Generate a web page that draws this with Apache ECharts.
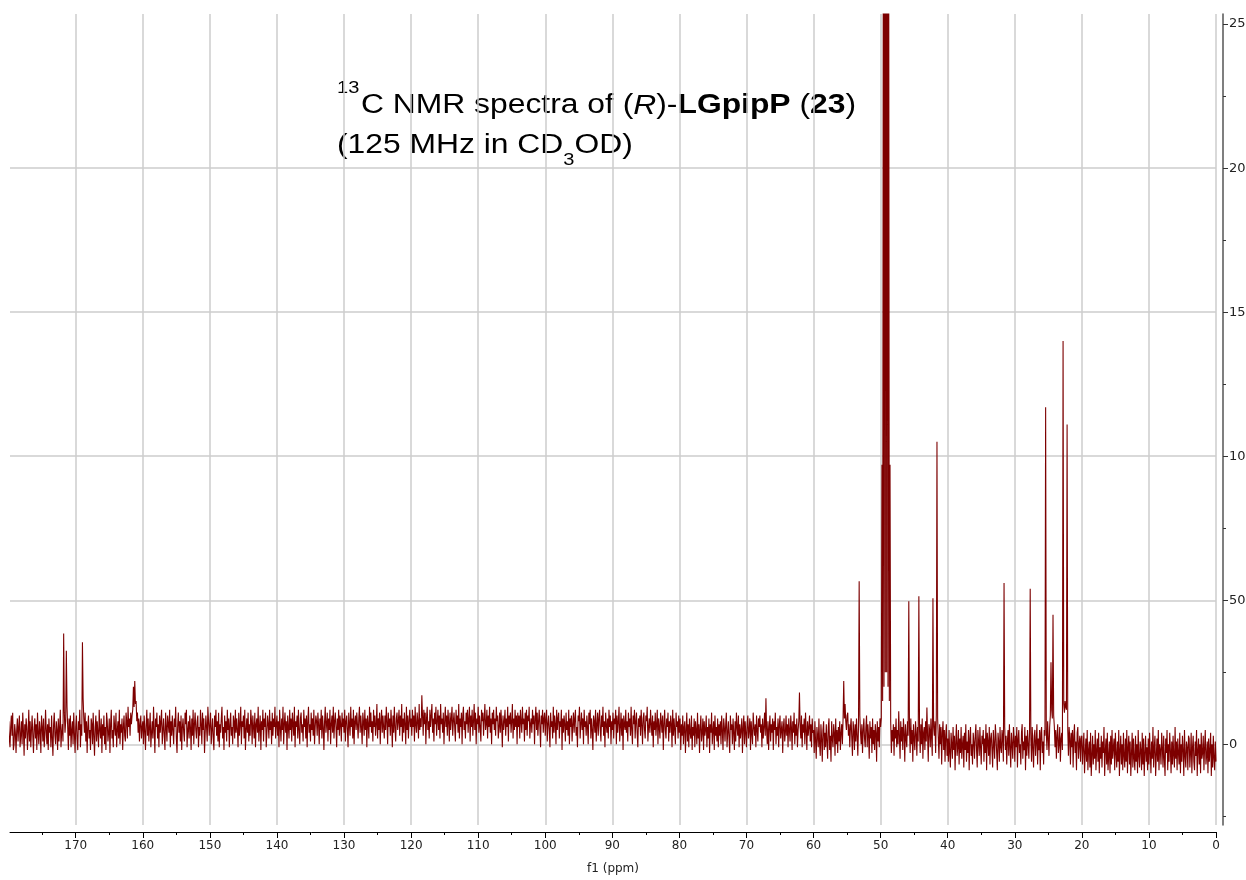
<!DOCTYPE html>
<html>
<head>
<meta charset="utf-8">
<script src="https://cdn.jsdelivr.net/npm/echarts@6/dist/echarts.min.js"></script>
<style>
html,body{margin:0;padding:0;background:#fff;}
#chart{width:1246px;height:880px;}
</style>
</head>
<body>
<div id="chart"></div>
<script>
// ---- Data ----
// chemical shift grid: first point at 180 ppm, spacing 0.1 ppm, down to 0 ppm
const ppmStart = 180;
const ppmStep = 0.1;
// intensity at each grid point (right-axis units); each row = 2 ppm, comment = ppm of first point
const intensity = [
  8, 2, -1, 6, 10, 3, 11, -2, 0, 7, 4, -3, 5, 9, 1, 6, 10, -1, 3, 8,            // 180
  0, 11, 5, -4, 7, 2, 9, 6, -2, 4, 12, 1, 8, -1, 5, 10, 3, -3, 6, 9,            // 178
  2, 7, -2, 11, 4, 0, 8, 5, -3, 10, 6, 1, 9, -1, 3, 12, 5, 0, 7, -2,            // 176
  9, 4, 6, -1, 10, 2, -4, 7, 11, 3, 0, 8, 5, -2, 9, 1, 6, 12, -1, 4,            // 174
  7, 1, 38.5, 11, 4, 8, 32.5, 13, 6, -2, 9, 3, 10, -1, 5, 8, 0, 11, 4, -3,      // 172
  6, 10, 2, -2, 8, 5, 12, -1, 7, 3, 35.4, 16, 9, 4, 11, 1, 8, -3, 6, 10,        // 170
  2, 5, -2, 9, 7, 0, 11, 3, -4, 6, 10, 1, 8, 4, -1, 12, 5, 2, 9, -3,            // 168
  7, 3, 10, 0, 6, -2, 11, 8, 1, 4, 9, -3, 7, 12, 2, 5, -1, 10, 6, 3,            // 166
  11, -1, 5, 8, 2, 12, 0, 7, 4, 9, -2, 6, 10, 3, 1, 11, 8, 2, 13, 6,            // 164
  9, 3, 11, 7, 10, 12, 20, 13, 22, 14, 15, 8, 11, 4, 9, 1, 7, 10, 2, 6,         // 162
  8, 0, 10, 5, -2, 7, 12, 3, 9, 1, 6, 11, -1, 4, 8, 2, 13, 5, -3, 9,            // 160
  6, 11, 2, 7, -1, 10, 4, 8, 12, 0, 5, 9, 3, -2, 11, 6, 1, 10, 7, 4,            // 158
  12, -1, 8, 3, 10, 5, 0, 9, 6, 13, 2, -3, 7, 11, 4, 8, 1, 10, -2, 6,           // 156
  9, 4, 1, 11, 7, 12, -1, 5, 8, 2, 10, 6, -2, 9, 3, 12, 0, 7, 11, 5,            // 154
  2, 8, 10, -1, 6, 3, 12, 7, 0, 11, 5, 9, -3, 4, 10, 6, 1, 13, 8, 3,            // 152
  7, 11, 0, 5, 9, 2, -2, 10, 6, 12, 3, 8, 1, 11, -1, 7, 4, 9, 13, 2,            // 150
  6, -2, 10, 4, 8, 1, 12, 5, 9, -1, 7, 11, 3, 6, 0, 10, 8, 2, 12, 4,            // 148
  9, 5, -1, 11, 3, 7, 13, 0, 8, 6, 10, 2, 12, -2, 5, 9, 4, 11, 1, 7,            // 146
  3, 12, 8, 0, 10, 6, 2, 11, -1, 7, 9, 4, 13, 1, 6, 10, -2, 8, 5, 12,           // 144
  1, 9, 6, 11, -1, 4, 10, 7, 2, 12, 5, 8, 0, 11, 3, 9, 6, 13, 2, 7,             // 142
  10, 3, 8, -1, 12, 6, 1, 9, 5, 13, 0, 7, 11, 4, 8, -2, 10, 6, 2, 12,           // 140
  5, 9, 1, 11, 7, 3, 13, -1, 8, 6, 10, 2, 12, 5, 0, 9, 11, 4, 7, 1,             // 138
  12, 6, 9, 2, 10, -1, 8, 13, 4, 7, 1, 11, 5, 9, 3, 12, 0, 6, 10, 8,            // 136
  3, 11, 7, 0, 9, 5, 12, 2, 10, 6, -2, 8, 13, 4, 7, 11, 1, 9, 5, 12,            // 134
  0, 7, 10, 4, 13, 2, 8, 11, 6, -1, 9, 5, 12, 3, 10, 7, 1, 11, 6, 9,            // 132
  4, 12, 1, 8, 10, 5, -1, 11, 7, 3, 13, 6, 9, 2, 12, 0, 8, 10, 5, 11,           // 130
  7, 2, 9, 13, 4, 10, 6, 0, 11, 8, 3, 12, 5, 9, -1, 10, 7, 2, 13, 6,            // 128
  11, 4, 8, 1, 12, 6, 10, 3, 7, 14, 2, 9, 5, 11, 0, 8, 12, 4, 10, 6,            // 126
  2, 10, 5, 13, 8, 0, 11, 6, 9, 3, 12, 7, -1, 10, 4, 13, 6, 1, 9, 11,           // 124
  5, 8, 12, 3, 10, 6, 14, 1, 9, 4, 11, 7, 0, 13, 5, 10, 2, 8, 12, 6,            // 122
  9, 3, 12, 6, 10, 1, 13, 7, 4, 11, 8, 2, 14, 5, 9, 6, 17, 10, 3, 12,           // 120
  7, 11, 0, 9, 13, 5, 8, 2, 12, 6, 10, 14, 4, 9, 1, 11, 7, 13, 3, 8,            // 118
  12, 5, 10, 2, 14, 7, 9, 4, 11, 0, 8, 13, 6, 10, 3, 12, 8, 1, 11, 5,           // 116
  9, 13, 3, 8, 11, 6, 1, 12, 7, 10, 4, 14, 2, 9, 6, 11, 0, 10, 13, 5,           // 114
  8, 2, 11, 7, 12, 4, 9, 13, 1, 10, 6, 12, 3, 8, 14, 5, 11, 0, 9, 7,            // 112
  13, 4, 10, 6, 1, 12, 8, 11, 3, 9, 14, 5, 7, 12, 2, 10, 6, 13, 4, 9,           // 110
  0, 11, 7, 12, 5, 9, 3, 13, 8, 10, 2, 6, 11, 4, 12, 7, -1, 10, 5, 8,           // 108
  12, 3, 9, 6, 13, 1, 10, 7, 11, 4, 8, 14, 2, 9, 5, 12, 6, 10, 0, 11,           // 106
  6, 10, 2, 12, 8, 4, 13, 7, 9, 1, 11, 5, 12, 3, 10, 8, 13, 2, 7, 9,            // 104
  4, 12, 7, 10, 0, 9, 13, 5, 11, 3, 8, 12, 6, -1, 10, 7, 12, 4, 9, 11,          // 102
  3, 9, 12, 1, 7, 10, 5, -1, 11, 6, 8, 2, 13, 4, 10, 7, 0, 12, 5, 9,            // 100
  11, 2, 8, 6, 12, -2, 9, 4, 10, 7, 1, 11, 5, 8, 3, 12, 0, 9, 6, 10,           // 98
  1, 7, 11, 4, 9, 12, 3, 6, -1, 10, 8, 13, 2, 7, 11, 5, 9, 0, 12, 6,            // 96
  8, 3, 10, 6, 0, 11, 7, 12, 2, 9, 5, -2, 10, 8, 4, 12, 1, 7, 11, 3,            // 94
  9, 12, 5, 1, 10, 6, 13, 3, 8, -1, 11, 7, 4, 9, 2, 12, 6, 10, 0, 8,            // 92
  5, 11, 2, 9, 7, 12, 0, 10, 4, 8, 13, 1, 6, 11, 3, 9, -2, 10, 7, 5,            // 90
  12, 4, 8, 1, 11, 6, 9, 3, 13, 5, 0, 10, 7, 12, 2, 8, 11, 4, -1, 9,            // 88
  6, 10, 3, 12, 7, 0, 9, 11, 5, 2, 10, 8, 13, 1, 6, 9, 4, 12, 7, 3,             // 86
  10, -1, 8, 5, 11, 3, 7, 12, 0, 9, 6, 2, 11, 8, 4, 10, -2, 7, 12, 5,           // 84
  2, 9, 6, 11, 1, 8, 4, 10, 7, -1, 12, 3, 9, 5, 0, 11, 6, 8, 2, 10,             // 82
  4, 9, -2, 7, 3, 10, 0, 6, 8, -3, 5, 11, 1, 7, -1, 9, 4, 2, 10, -2,            // 80
  6, 3, 9, -1, 8, 5, 0, 11, 2, 7, -3, 6, 10, 1, 4, 9, -2, 8, 3, 5,              // 78
  10, -1, 6, 2, 9, -3, 7, 4, 11, 0, 5, 8, -2, 10, 3, 6, 1, 9, -1, 7,            // 76
  3, 8, 0, 10, 5, -2, 9, 6, 1, 7, 11, -1, 4, 8, 2, -3, 10, 5, 7, 0,             // 74
  9, 4, -2, 8, 1, 11, 6, 3, 10, -1, 7, 2, 5, 9, -3, 6, 10, 0, 8, 4,             // 72
  -1, 7, 10, 2, 5, 9, -2, 8, 4, 0, 11, 6, 3, 7, -1, 10, 5, 1, 9, 6,             // 70
  10, 4, 7, -1, 9, 2, 6, 11, 3, 16, 5, 0, 8, -2, 6, 10, 1, 7, 4, 9,             // 68 (peak 67.1)
  -2, 8, 5, 11, 0, 6, 3, 9, -1, 7, 10, 2, 5, 8, -3, 6, 9, 1, 4, 10,             // 66
  3, 7, -1, 9, 5, 1, 10, 6, -2, 8, 4, 11, 0, 7, 3, 9, -1, 5, 8, 18,             // 64 (peak 62.1)
  6, 2, 10, -1, 7, 4, 9, 0, 11, 5, -2, 8, 3, 6, 10, 1, 7, -1, 9, 4,             // 62
  5, -3, 8, 1, -5, 6, 3, -1, 9, 0, -4, 7, 2, -6, 5, 8, -2, 4, -1, 7,            // 60
  1, -5, 6, 9, -2, 3, -6, 8, 2, -1, 7, 4, -4, 9, 0, 5, -3, 6, 1, 8,             // 58
  -2, 4, 7, 0, 9, 22, 9, 14, 8, 5, 10, 11, 3, 7, -1, 6, 9, 2, -4, 8,            // 56 (55.5)
  5, -2, 7, 1, 9, 3, -4, 6, 56.6, 10, 4, 0, 7, -3, 5, 9, 2, -1, 6, 10,          // 54 (53.2)
  -1, 7, 3, -5, 8, 2, 6, -3, 9, 0, 5, -2, 7, 4, -6, 8, 1, 6, -1, 9,             // 52
  6, 9, 97, 15, 290, 20, 580, 25, 680, 25, 580, 20, 290, 15, 97, 8, -3, 5, 1, 7, // 50 (CD3OD)
  -4, 6, 2, 9, -1, 5, 0, 11.5, 3, -5, 8, 1, 6, -2, 9, 4, -6, 7, 2, -1,          // 48
  8, 3, 49.7, 6, -3, 9, 0, 5, -6, 7, 2, -2, 8, 4, -4, 6, 1, 51.4, 5, -3,        // 46
  7, 0, 9, -5, 4, 6, -2, 8, 1, 12.8, 3, -6, 7, 5, -1, 9, 2, -4, 50.7, 6,        // 44
  3, 8, -3, 10, 105, 9, 2, -5, 7, 0, 6, -7, 4, 8, -2, 5, -6, 3, 7, -4,          // 42
  2, -6, 5, -3, -8, 4, 0, -5, 6, -2, 3, -9, 1, 7, -4, -1, 5, -7, 2, -3,         // 40
  6, -5, 0, 3, -8, 4, -2, 7, -6, 1, -3, 5, -9, 2, 6, -4, 0, -7, 4, 1,           // 38
  -5, 3, 7, -2, -8, 5, 1, -4, 6, -1, -7, 3, 0, 5, -6, 2, -3, 7, -9, 4,          // 36
  1, -4, 6, -7, 2, 4, -2, -8, 5, 0, -5, 7, 3, -3, -9, 4, 1, -6, 6, -1,          // 34
  -3, 5, 2, -6, 56, 6, -2, 3, -7, 1, 5, -4, 7, -1, -8, 4, 0, -5, 6, 2,          // 32 (31.6)
  -6, 3, -1, 6, -8, 2, 5, -3, 0, -7, 4, 7, -5, 1, -2, 6, -9, 3, -4, 5,          // 30
  0, -5, 4, 54, 2, -6, 6, -1, -8, 3, 5, -4, 1, 7, -7, 2, -2, 5, -9, 4,          // 28 (27.7)
  6, -3, 1, -7, 5, 3, 117, 4, -2, 8, 2, -4, 6, 10, 28.5, 12, 9, 45, 10, 6,      // 26
  -1, 5, -5, 3, 7, -3, 0, 6, -6, 2, 4, -2, 140, 14, 11, 15, 13, 12, 111, 5,     // 24
  -4, 6, 2, -7, 4, -1, 5, -8, 3, 7, -3, 1, -9, 4, 6, -5, 0, 3, -6, 2,           // 22
  3, -7, -1, 4, -10, -3, 2, -6, 5, -9, -2, 1, -8, 4, -11, -4, 3, -7, 0, -5,     // 20
  5, -9, -2, 2, -6, 4, -10, -1, -5, 3, -8, 1, -3, 6, -11, -2, 2, -7, 4, -9,     // 18
  -4, 1, -10, 3, -7, 5, -5, -1, 2, -9, 4, -3, -8, 1, -6, 5, -11, -2, 3, -7,     // 16
  0, -9, 4, -4, -8, 2, -6, 5, -10, -1, 3, -7, 1, -11, -3, 4, -8, 2, -5, -9,     // 14
  3, -6, 0, -10, 5, -4, -8, 1, -2, -9, 4, -7, 2, -11, -3, 3, -6, -1, -9, 2,     // 12
  -7, 4, -3, -10, 1, -5, 6, -8, -1, 3, -11, -4, 2, -6, 5, -9, 0, -2, -7, 4,     // 10
  -1, -8, 3, -5, -11, 2, -3, 5, -9, 0, -6, 4, -2, -10, 1, -7, 3, -4, -8, 6,     // 8
  -5, 1, -9, 2, -3, -7, 4, -10, 0, -6, 3, -2, -11, 5, -4, -8, 1, -1, -9, 3,     // 6
  2, -8, -3, 4, -10, -1, 3, -6, -9, 1, -4, 5, -11, -2, 2, -7, 0, -10, 4, -5,    // 4
  -3, 3, -9, -1, 5, -7, -4, 1, -10, 2, -6, -2, 4, -11, 0, -8, 3, -5, -9, 1,     // 2
  -6                                                                           // 0
];
const xTicks = [0, 10, 20, 30, 40, 50, 60, 70, 80, 90, 100, 110, 120, 130, 140, 150, 160, 170];
const yTicks = [0, 50, 100, 150, 200, 250];
const yMinorTicks = [-25, 25, 75, 125, 175, 225];
const xName = 'f1 (ppm)';

// ---- Chart ----
const seriesData = intensity.map((v, i) => [ppmStart - i * ppmStep, v]);

const AX_FONT = '"DejaVu Sans", Verdana, sans-serif';
const TF = '"Liberation Sans", Arial, sans-serif';

const ctx = document.createElement('canvas').getContext('2d');
function tw(text, size, weight, style) {
  ctx.font = (style || 'normal') + ' ' + (weight || 'normal') + ' ' + size + 'px ' + TF;
  return ctx.measureText(text).width;
}
const FS = 27, FS2 = 17;
const line1W = tw('C NMR spectra of (', FS) + tw('R', FS, 'normal', 'italic') + tw(')-', FS) +
  tw('LGpipP', FS, 'bold') + tw(' (', FS) + tw('23', FS, 'bold') + tw(')', FS);
const sx = 495 / line1W;
const l2a = '(125 MHz in CD';
const w2a = tw(l2a, FS);
const w3 = tw('3', FS2);

function rs(weight, style) {
  return { fontSize: FS, fontFamily: TF, fontWeight: weight || 'normal', fontStyle: style || 'normal', fill: '#000' };
}

const chart = echarts.init(document.getElementById('chart'), null, { renderer: 'canvas' });
chart.setOption({
  animation: false,
  backgroundColor: '#ffffff',
  grid: { left: 10, right: 30, top: 14, bottom: 55, show: false, containLabel: false, outerBoundsMode: 'none' },
  xAxis: [{
    type: 'value', inverse: true, min: 0, max: 179.8, interval: 10,
    position: 'bottom', offset: 7,
    name: xName, nameLocation: 'middle', nameGap: 31,
    nameTextStyle: { fontFamily: AX_FONT, fontSize: 12, color: '#222' },
    axisLine: { show: true, onZero: false, lineStyle: { color: '#000', width: 1 } },
    axisTick: { show: true, length: 6, customValues: xTicks, lineStyle: { color: '#000' } },
    minorTick: { show: true, splitNumber: 2, length: 3, lineStyle: { color: '#000' } },
    axisLabel: { customValues: xTicks, fontFamily: AX_FONT, fontSize: 12, color: '#222', margin: 8,
      formatter: v => (Math.abs(v % 10) < 1e-6 ? String(v) : '') },
    splitLine: { show: true, lineStyle: { color: '#cccccc', width: 1.5 } }
  }],
  yAxis: [{
    type: 'value', min: -28, max: 253.5, interval: 50, position: 'right', offset: 7,
    axisLine: { show: true, onZero: false, lineStyle: { color: '#555', width: 1.5 } },
    axisTick: { show: true, length: 5, customValues: yTicks, lineStyle: { color: '#333' } },
    axisLabel: { customValues: yTicks, fontFamily: AX_FONT, fontSize: 13, color: '#222', margin: 6,
      formatter: v => (Math.abs(v % 50) < 1e-6 ? String(v) : '') },
    splitLine: { show: true, showMaxLine: false, lineStyle: { color: '#cccccc', width: 1.5 } }
  }, {
    type: 'value', min: -28, max: 253.5, interval: 50, position: 'right', offset: 7,
    axisLine: { show: false, onZero: false },
    axisTick: { show: true, length: 3, customValues: yMinorTicks, lineStyle: { color: '#333' } },
    axisLabel: { show: false },
    splitLine: { show: false }
  }],
  graphic: [{
    type: 'group', x: 337, y: 0, scaleX: sx, z: 100,
    children: [
      { type: 'text', x: 0, y: 88, style: { text: '13', fontSize: FS2, fontFamily: TF, fill: '#000', verticalAlign: 'middle' } },
      { type: 'text', x: (361 - 337) / sx, y: 106, style: {
        text: '{n|C NMR spectra of (}{i|R}{n|)-}{b|LGpipP}{n| (}{b|23}{n|)}',
        verticalAlign: 'middle', fontSize: FS, fontFamily: TF,
        rich: { n: rs(), i: rs('normal', 'italic'), b: rs('bold') } } },
      { type: 'text', x: 0, y: 146, style: { text: l2a, fontSize: FS, fontFamily: TF, fill: '#000', verticalAlign: 'middle' } },
      { type: 'text', x: w2a, y: 160, style: { text: '3', fontSize: FS2, fontFamily: TF, fill: '#000', verticalAlign: 'middle' } },
      { type: 'text', x: w2a + w3, y: 146, style: { text: 'OD)', fontSize: FS, fontFamily: TF, fill: '#000', verticalAlign: 'middle' } }
    ]
  }],
  series: [{
    type: 'line', xAxisIndex: 0, yAxisIndex: 0,
    data: seriesData, showSymbol: false, symbol: 'none', sampling: null,
    lineStyle: { color: '#7d0000', width: 1.1 }, clip: true, silent: true
  }]
});
</script>
</body>
</html>
